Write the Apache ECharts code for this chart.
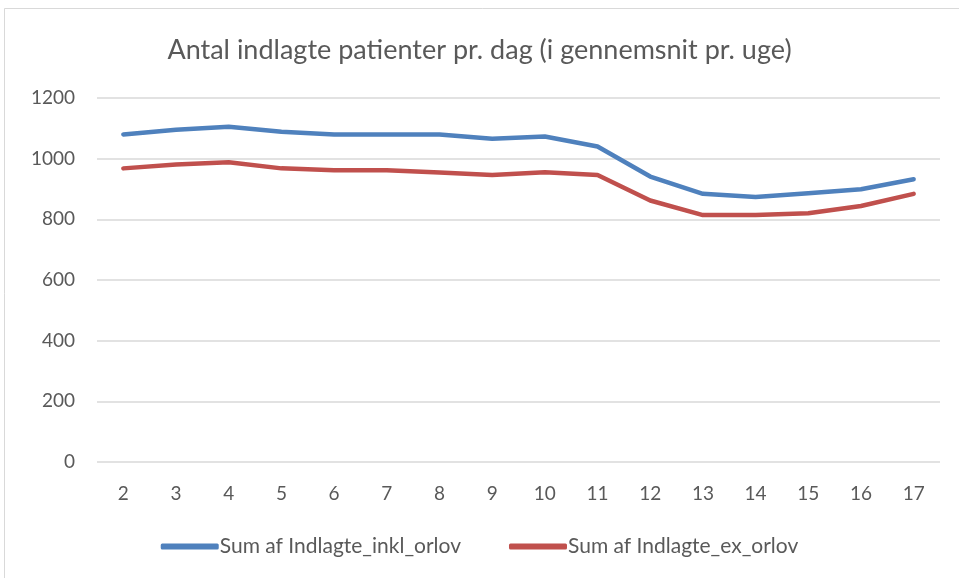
<!DOCTYPE html>
<html style="height: 100%">
<head>
<meta charset="utf-8">
<script src="https://cdn.jsdelivr.net/npm/echarts@6/dist/echarts.min.js"></script>
</head>
<body style="height: 100%; margin: 0; background: #fff">
<div id="container" style="width: 959px; height: 578px;"></div>
<script>
// uger
var weeks = ['2', '3', '4', '5', '6', '7', '8', '9', '10', '11', '12', '13', '14', '15', '16', '17'];
// indlagte inkl. orlov
var inklOrlov = [1080, 1095, 1105, 1089, 1080, 1080, 1080, 1066, 1073, 1040, 941, 884, 874, 886, 899, 932];
// indlagte ex. orlov
var exOrlov = [968, 981, 988, 968, 962, 962, 954, 946, 955, 946, 862, 814, 814, 820, 844, 884];
var yTicks = [0, 200, 400, 600, 800, 1000, 1200];

var txt = '#595959';
var fnt = 'Lato, "Open Sans", sans-serif';

var myChart = echarts.init(document.getElementById('container'));
var option = {
    backgroundColor: '#fff',
    animation: false,
    graphic: [{
        type: 'rect',
        shape: { x: 4.5, y: 8.5, width: 970, height: 590 },
        style: { fill: 'none', stroke: '#d9d9d9', lineWidth: 1 }
    }],
    title: {
        text: 'Antal indlagte patienter pr. dag (i gennemsnit pr. uge)',
        left: 'center',
        top: 32,
        textStyle: { color: txt, fontSize: 27, fontWeight: 'normal', fontFamily: fnt }
    },
    legend: {
        bottom: 16,
        left: 'center',
        itemWidth: 58,
        itemHeight: 6,
        itemGap: 48,
        icon: 'roundRect',
        textStyle: { color: txt, fontSize: 21, fontFamily: fnt, padding: [0, 0, 0, -4] },
        data: ['Sum af Indlagte_inkl_orlov', 'Sum af Indlagte_ex_orlov']
    },
    grid: { left: 97, right: 19, top: 98, bottom: 116 },
    xAxis: {
        type: 'category',
        data: weeks,
        boundaryGap: true,
        axisLine: { show: false },
        axisTick: { show: false },
        axisLabel: { color: txt, fontSize: 19, fontFamily: fnt, margin: 22 }
    },
    yAxis: {
        type: 'value',
        min: yTicks[0],
        max: yTicks[yTicks.length - 1],
        interval: 200,
        axisLine: { show: false },
        axisTick: { show: false },
        axisLabel: { color: txt, fontSize: 19, fontFamily: fnt, margin: 22, formatter: function (v) { return String(v); } },
        splitLine: { lineStyle: { color: '#d9d9d9', width: 1.5 } }
    },
    series: [{
        name: 'Sum af Indlagte_inkl_orlov',
        type: 'line',
        data: inklOrlov,
        symbol: 'none',
        color: '#4F81BD',
        lineStyle: { width: 4.5, cap: 'round', join: 'round' }
    }, {
        name: 'Sum af Indlagte_ex_orlov',
        type: 'line',
        data: exOrlov,
        symbol: 'none',
        color: '#C0504D',
        lineStyle: { width: 4.5, cap: 'round', join: 'round' }
    }]
};
myChart.setOption(option, true);
</script>
</body>
</html>
